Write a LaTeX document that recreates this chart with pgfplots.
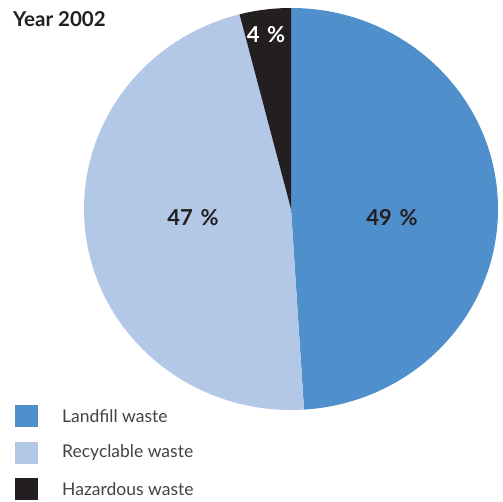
\documentclass[border=0pt]{standalone}
\usepackage{pgfplots}
\pgfplotsset{compat=1.18}
\usepackage{fontspec}
\setmainfont{Lato}
\definecolor{landfill}{HTML}{4F8FCC}
\definecolor{recyc}{HTML}{B3C8E6}
\definecolor{haz}{HTML}{231F20}
\definecolor{txt}{HTML}{231F20}
\begin{document}
\begin{tikzpicture}
\begin{axis}[
  x=1pt, y=1pt,
  xmin=0, xmax=503, ymin=0, ymax=501,
  enlargelimits=false,
  hide axis, clip=false,
]
\path (axis cs:0,0) rectangle (axis cs:503,501);
% pie: value, colour
\def\cx{291}\def\cy{292}\def\rx{207}\def\ry{201}
\gdef\startang{90}
\foreach \val/\col in {49/landfill, 47/recyc, 4/haz}{
  \pgfmathsetmacro{\endang}{\startang-\val*3.6}
  \pgfmathsetmacro{\sx}{\rx*cos(\startang)}
  \pgfmathsetmacro{\sy}{\ry*sin(\startang)}
  \edef\doit{\noexpand\fill[\col] (axis cs:\cx,\cy) -- ++(\sx pt,\sy pt)
     arc[start angle=\startang, end angle=\endang, x radius=\rx pt, y radius=\ry pt] -- cycle;}
  \doit
  \xdef\startang{\endang}
}
\node[font=\fontsize{22}{24}\selectfont\bfseries, text=txt] at (axis cs:392,283) {49\hspace{0.35em}\%};
\node[font=\fontsize{22}{24}\selectfont\bfseries, text=txt] at (axis cs:193,283) {47\hspace{0.35em}\%};
\node[font=\fontsize{22}{24}\selectfont\bfseries, text=white] at (axis cs:266,466) {4\hspace{0.35em}\%};
\node[font=\fontsize{20.5}{22}\selectfont\bfseries, text=txt, anchor=west, inner sep=0pt] at (axis cs:13,482) {Year 2002};
% legend
\foreach \y/\col/\lab in {85/landfill/Landfill waste, 48/recyc/Recyclable waste, 12/haz/Hazardous waste}{
  \edef\doit{\noexpand\fill[\col] (axis cs:15,\y-11) rectangle (axis cs:38,\y+11);
  \noexpand\node[anchor=west, inner sep=0pt, font=\noexpand\fontsize{17.5}{19}\noexpand\selectfont, text=txt!85] at (axis cs:62,\y) {\lab};}
  \doit
}
\end{axis}
\end{tikzpicture}
\end{document}
